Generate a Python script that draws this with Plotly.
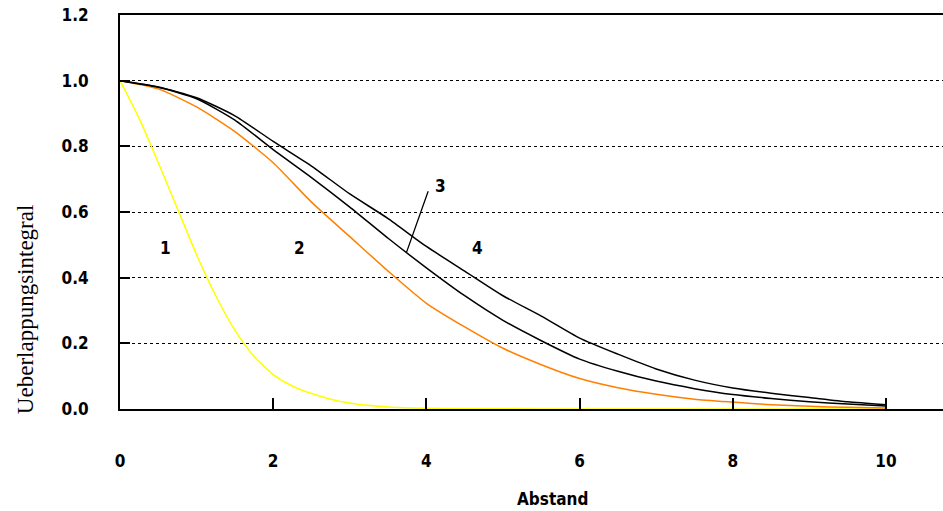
import plotly.graph_objects as go

# distance (Abstand)
x_dense = [0, 0.25, 0.5, 0.75, 1.0, 1.25, 1.5, 1.75, 2.0, 2.25, 2.5, 2.75, 3.0, 3.5, 4.0, 5.0, 6.0, 7.0, 8.0, 9.0, 10.0]
curve1 = [1.0, 0.885, 0.75, 0.61, 0.47, 0.345, 0.24, 0.16, 0.105, 0.07, 0.047, 0.03, 0.018, 0.006, 0.002, 0.0005, 0.0, 0.0, 0.0, 0.0, 0.0]

x_vals = [0, 0.5, 1.0, 1.5, 2.0, 2.5, 3.0, 3.5, 4.0, 4.5, 5.0, 5.5, 6.0, 6.5, 7.0, 7.5, 8.0, 8.5, 9.0, 9.5, 10.0]
curve2 = [1.0, 0.975, 0.92, 0.845, 0.75, 0.63, 0.525, 0.42, 0.322, 0.25, 0.185, 0.135, 0.093, 0.065, 0.045, 0.03, 0.021, 0.013, 0.008, 0.005, 0.003]
curve3 = [1.0, 0.98, 0.945, 0.88, 0.79, 0.705, 0.615, 0.52, 0.43, 0.345, 0.27, 0.208, 0.152, 0.115, 0.085, 0.062, 0.044, 0.032, 0.022, 0.015, 0.009]
curve4 = [1.0, 0.981, 0.948, 0.893, 0.815, 0.74, 0.655, 0.58, 0.495, 0.42, 0.345, 0.283, 0.216, 0.167, 0.122, 0.088, 0.064, 0.048, 0.035, 0.022, 0.013]

x_ticks = [0, 2, 4, 6, 8, 10]
y_ticks = [0.0, 0.2, 0.4, 0.6, 0.8, 1.0, 1.2]
y_tick_text = ["0.0", "0.2", "0.4", "0.6", "0.8", "1.0", "1.2"]

curve_labels = ["1", "2", "3", "4"]
label_x = [0.59, 2.34, 4.19, 4.67]
label_y = [0.49, 0.49, 0.68, 0.49]

LBL = dict(family="DejaVu Sans Condensed", size=17, color="black", weight="bold")
LINE = dict(shape="spline", smoothing=0.6, width=1.5)

fig = go.Figure()
fig.add_trace(go.Scatter(x=x_dense, y=curve1, mode="lines", line=dict(color="#ffff00", **LINE)))
fig.add_trace(go.Scatter(x=x_vals, y=curve2, mode="lines", line=dict(color="#ff8000", **LINE)))
fig.add_trace(go.Scatter(x=x_vals, y=curve3, mode="lines", line=dict(color="black", **LINE)))
fig.add_trace(go.Scatter(x=x_vals, y=curve4, mode="lines", line=dict(color="black", **LINE)))

for t, lx, ly in zip(curve_labels, label_x, label_y):
    fig.add_annotation(x=lx, y=ly, xref="x", yref="y", text=t, showarrow=False, font=LBL)

# leader line for curve 3
fig.add_annotation(x=3.74, y=0.477, xref="x", yref="y", ax=4.03, ay=0.668, axref="x", ayref="y",
                   text="", showarrow=True, arrowhead=0, arrowwidth=1.3, arrowcolor="black")

fig.add_annotation(x=0.526, y=-0.228, xref="paper", yref="paper", text="Abstand", showarrow=False,
                   font=LBL, xanchor="center", yanchor="middle")
fig.add_annotation(x=-0.1154, y=0.251, xref="paper", yref="paper", text="Ueberlappungsintegral",
                   showarrow=False, textangle=-90,
                   font=dict(family="Liberation Serif", size=23, color="black"),
                   xanchor="center", yanchor="middle")

fig.update_layout(
    width=943, height=511,
    margin=dict(l=120, r=0, t=15, b=102),
    plot_bgcolor="white", paper_bgcolor="white",
    showlegend=False,
)
fig.update_xaxes(
    range=[0, 10.744], tickvals=x_ticks, ticktext=[str(v) for v in x_ticks],
    ticks="inside", ticklen=11, tickwidth=1.5, tickcolor="black",
    ticklabelstandoff=36, tickfont=LBL,
    showline=True, linecolor="black", linewidth=2, mirror=True,
    showgrid=False, zeroline=False,
)
fig.update_yaxes(
    range=[0, 1.2], tickvals=y_ticks, ticktext=y_tick_text,
    ticks="inside", ticklen=10, tickwidth=1.5, tickcolor="black",
    ticklabelstandoff=26, tickfont=LBL,
    showline=True, linecolor="black", linewidth=2,
    showgrid=True, gridcolor="black", gridwidth=1, griddash="dot",
    zeroline=False,
)

fig.write_html("out.html")
